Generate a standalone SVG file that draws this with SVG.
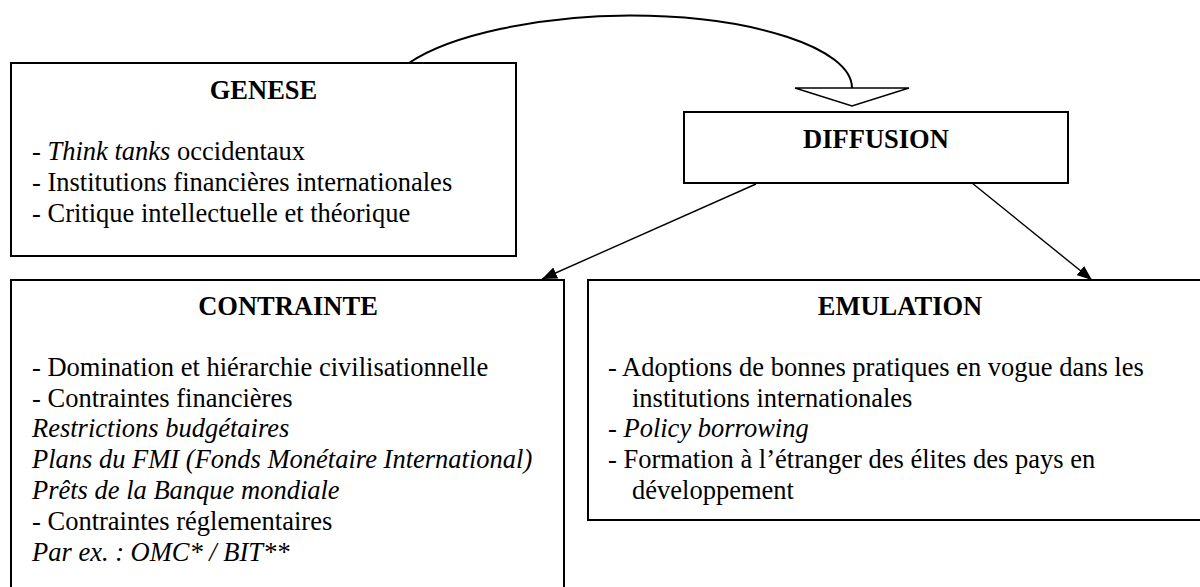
<svg xmlns="http://www.w3.org/2000/svg" width="1200" height="587" viewBox="0 0 1200 587">
  <style>
    .box { fill: #ffffff; stroke: #000000; stroke-width: 2; }
    .t { font-family: "Liberation Serif", "Times New Roman", serif; font-size: 26.5px; fill: #000000; }
    .title { font-weight: bold; text-anchor: middle; }
    .i { font-style: italic; }
    .conn { fill: none; stroke: #000000; stroke-width: 1.4; }
  </style>
  <defs>
    <marker id="arrow" markerUnits="userSpaceOnUse" markerWidth="16" markerHeight="12" refX="15" refY="6" orient="auto">
      <path d="M0,0 L15,6 L0,12 z" fill="#000000"/>
    </marker>
  </defs>
  <rect width="1200" height="587" fill="#ffffff"/>

  <g id="genese">
    <rect class="box" x="11" y="63" width="505" height="193"/>
    <text class="t title" x="263.5" y="98.5">GENESE</text>
    <text class="t" x="32" y="160">- <tspan class="i">Think tanks</tspan> occidentaux</text>
    <text class="t" x="32" y="191">- Institutions financières internationales</text>
    <text class="t" x="32" y="222">- Critique intellectuelle et théorique</text>
  </g>

  <g id="diffusion">
    <rect class="box" x="684" y="112" width="384" height="71"/>
    <text class="t title" x="876" y="148">DIFFUSION</text>
  </g>

  <g id="contrainte">
    <rect class="box" x="11" y="280" width="553" height="330"/>
    <text class="t title" x="288" y="314.5">CONTRAINTE</text>
    <text class="t" x="32" y="375.8">- Domination et hiérarchie civilisationnelle</text>
    <text class="t" x="32" y="406.6">- Contraintes financières</text>
    <text class="t i" x="32" y="437.4">Restrictions budgétaires</text>
    <text class="t i" x="32" y="468.2">Plans du FMI (Fonds Monétaire International)</text>
    <text class="t i" x="32" y="499">Prêts de la Banque mondiale</text>
    <text class="t" x="32" y="529.8">- Contraintes réglementaires</text>
    <text class="t i" x="32" y="560.6">Par ex. : OMC* / BIT**</text>
  </g>

  <g id="emulation">
    <rect class="box" x="588" y="280" width="624" height="240"/>
    <text class="t title" x="900" y="314.5">EMULATION</text>
    <text class="t" x="608" y="375.8">- Adoptions de bonnes pratiques en vogue dans les</text>
    <text class="t" x="632" y="406.6">institutions internationales</text>
    <text class="t" x="608" y="437.4">- <tspan class="i">Policy borrowing</tspan></text>
    <text class="t" x="608" y="468.2">- Formation à l’étranger des élites des pays en</text>
    <text class="t" x="632" y="499">développement</text>
  </g>

  <g id="connectors">
    <path class="conn" style="stroke-width:2" d="M409,63 C450,35 540,15.5 630,15.5 C752,15.5 852,48 852,88"/>
    <polygon points="795,88 909,88 852,106" fill="#ffffff" stroke="#000000" stroke-width="1.6"/>
    <line class="conn" x1="756" y1="184" x2="542" y2="279" marker-end="url(#arrow)"/>
    <line class="conn" x1="972" y1="183" x2="1092" y2="280" marker-end="url(#arrow)"/>
  </g>
</svg>
